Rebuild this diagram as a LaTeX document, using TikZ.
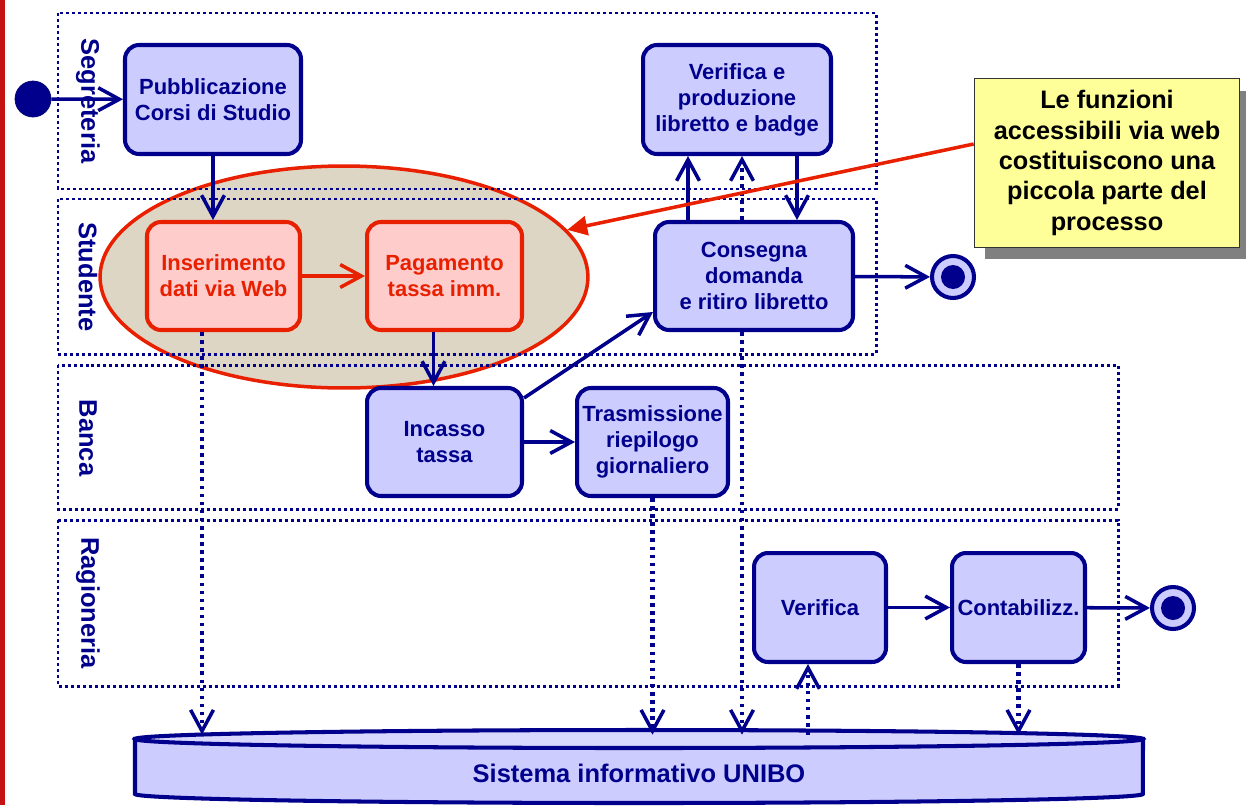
\documentclass[tikz,border=0pt]{standalone}
\usepackage{fontspec}
\setmainfont{Liberation Sans}
\usetikzlibrary{arrows.meta,shapes.geometric,shadows}

\definecolor{umlblue}{RGB}{0,0,140}
\definecolor{umlfill}{RGB}{204,204,255}
\definecolor{umltop}{RGB}{216,216,255}
\definecolor{webred}{RGB}{232,32,0}
\definecolor{webpink}{RGB}{255,204,204}
\definecolor{webtan}{RGB}{222,214,196}
\definecolor{notefill}{RGB}{255,255,153}
\definecolor{barred}{RGB}{196,18,18}

\tikzset{
  attivita/.style={draw=umlblue, fill=umlfill, line width=2.3pt, rounded corners=0.28cm,
    text=umlblue, font=\fontsize{12.5}{14.8}\selectfont\bfseries, align=center, inner sep=0pt},
  webatt/.style={attivita, draw=webred, fill=webpink, text=webred},
  corsia/.style={draw=umlblue, line width=1.7pt, dash pattern=on 1.7pt off 1.7pt},
  nomecorsia/.style={rotate=-90, text=umlblue, font=\fontsize{14.5}{17}\selectfont\bfseries},
  flusso/.style={draw=umlblue, line width=2pt,
    -{Straight Barb[length=12pt,width=13pt,line width=2pt]}},
  dati/.style={flusso, line width=2.6pt, dash pattern=on 2pt off 2.6pt},
  inizio/.style={circle, fill=umlblue, draw=umlblue!80!black, minimum size=0.72cm, inner sep=0pt},
  fine/.style={circle, fill=umlfill, draw=umlblue, line width=2.3pt, minimum size=0.84cm, inner sep=0pt,
    path picture={\fill [umlblue] (path picture bounding box.center) circle [radius=0.24cm];}},
  nota/.style={draw=black!80, fill=notefill, line width=1pt, minimum width=5.3cm,
    minimum height=3.38cm, align=center, font=\fontsize{14.4}{17.3}\selectfont\bfseries,
    drop shadow={shadow xshift=0.2cm, shadow yshift=-0.24cm, fill=black!50, opacity=1}},
}

\begin{document}
\begin{tikzpicture}[x=0.02cm, y=-0.02cm]
            \useasboundingbox ( 0, 0 ) rectangle ( 1246, 805 );
            \fill [barred] ( 0, 0 ) rectangle ( 5, 805 );

            % funzioni via web
            \node [ellipse, draw=webred, fill=webtan, line width=2pt, minimum width=9.76cm,
                   minimum height=4.44cm, inner sep=0pt] (web) at ( 344, 277 ) {};

            % corsie
            \draw [corsia] ( 58, 13 ) rectangle ( 876, 189 );
            \draw [corsia] ( 58, 199 ) rectangle ( 876, 354 );
            \draw [corsia] ( 58, 365 ) rectangle ( 1118, 509 );
            \draw [corsia] ( 58, 520 ) rectangle ( 1118, 686 );
            \node [nomecorsia] (lseg) at ( 88, 101 ) {Segreteria};
            \node [nomecorsia] (lstu) at ( 88, 277 ) {Studente};
            \node [nomecorsia] (lban) at ( 88, 438 ) {Banca};
            \node [nomecorsia] (lrag) at ( 88, 603 ) {Ragioneria};

            % attività
            \node [inizio] (start) at ( 33, 99 ) {};
            \node [attivita, minimum width=3.52cm, minimum height=2.18cm] (pub) at ( 213, 99.5 ) {Pubblicazione\\Corsi di Studio};
            \node [attivita, minimum width=3.76cm, minimum height=2.18cm] (ver) at ( 737, 99.5 ) {Verifica e\\produzione\\libretto e badge};
            \node [webatt, minimum width=3.06cm, minimum height=2.16cm] (ins) at ( 223.5, 276 ) {Inserimento\\dati via Web};
            \node [webatt, minimum width=3.1cm, minimum height=2.16cm] (pag) at ( 444.5, 276 ) {Pagamento\\tassa imm.};
            \node [attivita, minimum width=3.96cm, minimum height=2.16cm] (con) at ( 754, 276 ) {Consegna\\domanda\\e ritiro libretto};
            \node [attivita, minimum width=3.1cm, minimum height=2.16cm] (inc) at ( 444.5, 442 ) {Incasso\\tassa};
            \node [attivita, minimum width=3.02cm, minimum height=2.16cm] (tra) at ( 652.5, 442 ) {Trasmissione\\riepilogo\\giornaliero};
            \node [attivita, minimum width=2.64cm, minimum height=2.18cm] (vrg) at ( 820, 607.5 ) {Verifica};
            \node [attivita, minimum width=2.66cm, minimum height=2.18cm] (cnt) at ( 1018.5, 607.5 ) {Contabilizz.};
            \node [fine] (fine1) at ( 953, 277 ) {};
            \node [fine] (fine2) at ( 1173, 608 ) {};

            % guide verticali
            \coordinate (xins) at ( 202, 0 );
            \coordinate (xsu) at ( 688, 0 );
            \coordinate (xdati) at ( 742, 0 );
            \coordinate (xgiu) at ( 797, 0 );
            \coordinate (xvrg) at ( 808, 0 );

            % flussi
            \draw [flusso] (start) -- (pub);
            \draw [flusso] (pub.south) -- (pub.south |- ins.north);
            \draw [flusso, draw=webred] (ins) -- (pag);
            \draw [flusso] ([xshift=-0.22cm]pag.south) -- ([xshift=-0.22cm]inc.north);
            \draw [flusso] ([yshift=0.88cm]inc.east) -- ([yshift=-0.72cm]con.west);
            \draw [flusso] (inc) -- (tra);
            \draw [flusso] (con.north -| xsu) -- (ver.south -| xsu);
            \draw [flusso] (ver.south -| xgiu) -- (con.north -| xgiu);
            \draw [flusso] (con) -- (fine1);
            \draw [flusso] (vrg) -- (cnt);
            \draw [flusso] (cnt) -- (fine2);

            % archivio
            \draw [umlblue, line width=2.3pt, fill=umlfill] ( 135, 739 ) -- ( 135, 794 )
                arc [start angle=180, end angle=360, x radius=10.08cm, y radius=0.18cm] -- ( 1143, 739 ) -- cycle;
            \draw [umlblue, line width=2.3pt, fill=umltop] ( 639, 739 ) ellipse [x radius=10.08cm, y radius=0.18cm];
            \node [text=umlblue, font=\fontsize{14.5}{17}\selectfont\bfseries, minimum width=20.16cm,
                   minimum height=1.52cm, inner sep=0pt] (db) at ( 639, 773 ) {Sistema informativo UNIBO};

            % dati
            \draw [dati] (ins.south -| xins) -- (db.north -| xins);
            \draw [dati] (tra.south) -- (tra.south |- db.north);
            \draw [dati] (con.south -| xdati) -- (db.north -| xdati);
            \draw [dati] (con.north -| xdati) -- (ver.south -| xdati);
            \draw [dati] (db.north -| xvrg) -- (vrg.south -| xvrg);
            \draw [dati] (cnt.south) -- (cnt.south |- db.north);

            % nota
            \node [nota] (nota) at ( 1107, 163 ) {Le funzioni\\accessibili via web\\costituiscono una\\piccola parte del\\processo};
            \draw [webred, line width=2pt, -{Triangle[length=0.4cm,width=0.38cm]}] ([yshift=0.38cm]nota.west) -- (web);
\end{tikzpicture}
\end{document}
